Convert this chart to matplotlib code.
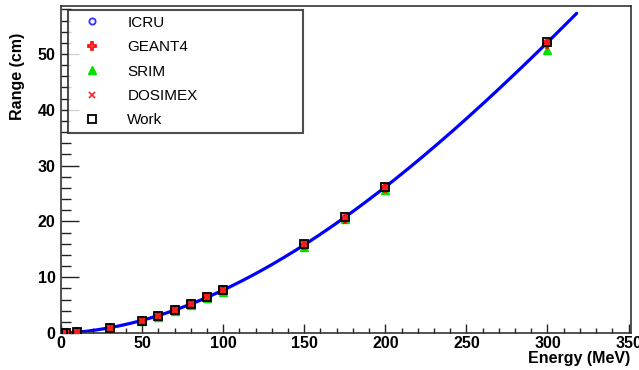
import numpy as np
import matplotlib
matplotlib.use("Agg")
import matplotlib.pyplot as plt
from matplotlib.ticker import MultipleLocator

# Proton ranges in water (cm) versus kinetic energy (MeV)
energy = [1, 3, 10, 30, 50, 60, 70, 80, 90, 100, 150, 175, 200, 300]
range_icru = [0.002, 0.015, 0.123, 0.885, 2.22, 3.06, 4.08, 5.18, 6.40, 7.72, 15.8, 20.6, 25.9, 51.9]
range_geant4 = [0.002, 0.016, 0.125, 0.880, 2.21, 3.05, 4.06, 5.17, 6.39, 7.70, 15.8, 20.5, 25.9, 51.8]
range_srim = [0.002, 0.015, 0.120, 0.860, 2.15, 2.95, 3.95, 5.02, 6.20, 7.40, 15.4, 20.4, 25.7, 50.8]
range_dosimex = [0.002, 0.015, 0.124, 0.890, 2.23, 3.07, 4.09, 5.20, 6.42, 7.75, 15.9, 20.6, 26.0, 52.0]
range_work = [0.002, 0.016, 0.124, 0.885, 2.22, 3.07, 4.08, 5.19, 6.41, 7.74, 15.9, 20.7, 26.1, 52.1]

fit_emax = 318.0
xlim = (0, 351.5)
ylim = (0, 58.6)

plt.rcParams['font.family'] = ['Liberation Sans', 'DejaVu Sans']

fig = plt.figure(figsize=(6.39, 3.70), dpi=100)
ax = fig.add_axes([61 / 639, 1 - 333 / 370, 570 / 639, 327 / 370])

# Cubic least-squares fit to the work data, drawn as a smooth curve
e_arr = np.array(energy, dtype=float)
r_arr = np.array(range_work, dtype=float)
coef = np.polyfit(e_arr, r_arr, 3)
e_fit = np.linspace(0, fit_emax, 400)
r_fit = np.clip(np.polyval(coef, e_fit), 0, None)
ax.plot(e_fit, r_fit, color='#0000ff', lw=2.3, zorder=2, solid_capstyle='round')

ax.plot(energy, range_icru, ls='none', marker='o', ms=4.5, mfc='none', mec='#3030ff',
        mew=1.3, label='ICRU', zorder=3)
ax.plot(energy, range_geant4, ls='none', marker='P', ms=5.5, mfc='none', mec='#ff0000',
        mew=1.2, label='GEANT4', zorder=4)
ax.plot(energy, range_srim, ls='none', marker='^', ms=5.5, color='#00e000',
        label='SRIM', zorder=3)
ax.plot(energy, range_dosimex, ls='none', marker='x', ms=5, color='#ff2020',
        mew=1.2, label='DOSIMEX', zorder=5)
ax.plot(energy, range_work, ls='none', marker='s', ms=5.5, mfc='none', mec='black',
        mew=1.3, label='Work', zorder=6)

ax.set_xlim(*xlim)
ax.set_ylim(*ylim)

ax.xaxis.set_major_locator(MultipleLocator(50))
ax.xaxis.set_minor_locator(MultipleLocator(10))
ax.yaxis.set_major_locator(MultipleLocator(10))
ax.yaxis.set_minor_locator(MultipleLocator(2))

ax.tick_params(axis='x', which='major', direction='in', length=6.5, width=1.0,
               pad=2, labelsize=11.5, colors='#222222')
ax.tick_params(axis='x', which='minor', direction='in', length=3.6, width=1.0, colors='#222222')
ax.tick_params(axis='y', which='major', direction='in', length=13, width=1.0,
               pad=4, labelsize=11.5, colors='#222222')
ax.tick_params(axis='y', which='minor', direction='in', length=7.5, width=1.0, colors='#222222')
for lab in ax.get_xticklabels() + ax.get_yticklabels():
    lab.set_fontweight('bold')
    lab.set_color('black')

for s in ax.spines.values():
    s.set_color('#333333')
    s.set_linewidth(1.2)

ax.set_xlabel('Energy (MeV)', fontsize=11.5, fontweight='bold', loc='right')
ax.xaxis.set_label_coords(0.998, -0.054)
ax.set_ylabel('Range (cm)', fontsize=11.5, fontweight='bold', loc='top')
ax.yaxis.set_label_coords(-0.064, 0.917)

leg = ax.legend(loc='upper left', bbox_to_anchor=(7 / 570, 0.627, 235 / 570, 0.361),
                mode='expand', borderaxespad=0, fontsize=11, frameon=True, fancybox=False,
                edgecolor='#222222', borderpad=0.38, labelspacing=0.68, handlelength=2.4,
                handletextpad=1.1, numpoints=1)
leg.get_frame().set_linewidth(1.5)

fig.savefig('out.png', dpi=100)
